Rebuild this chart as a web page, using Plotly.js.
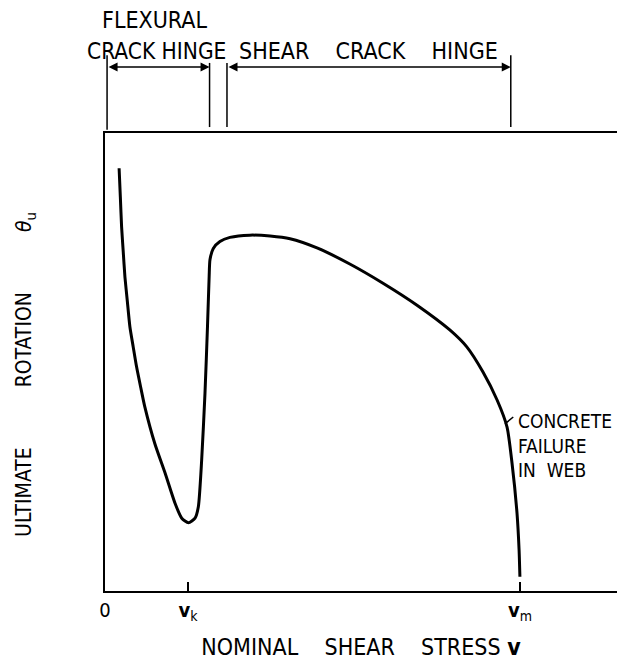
<!DOCTYPE html>
<html>
<head>
<meta charset="utf-8">
<script src="https://cdn.plot.ly/plotly-3.0.1.min.js"></script>
<style>html,body{margin:0;padding:0;background:#fff;}</style>
</head>
<body>
<div id="chart" style="width:617px;height:660px;"></div>
<script>
// Nominal shear stress v (relative units: v_m = 100)
const stress = [3.4, 3.7, 4.0, 4.4, 4.8, 5.4, 6.0, 6.8, 7.6, 8.6, 9.6, 12.0, 14.5, 16.9, 18.5, 20.1, 21.7, 22.5, 23.3, 24.1, 24.7, 25.1, 25.3, 26.1, 27.7, 30.1, 34.9, 39.8, 44.6, 51.1, 59.0, 67.0, 75.2, 83.1, 87.2, 91.1, 94.5, 96.9, 98.1, 99.3, 99.8, 100];
// Ultimate rotation theta_u (relative units)
const rotation = [92.3, 86.0, 79.5, 74.0, 68.6, 63.1, 57.7, 53.3, 49.0, 44.5, 40.2, 32.2, 25.7, 19.1, 15.9, 14.9, 15.9, 18.4, 28.6, 43.2, 57.7, 68.6, 72.3, 74.8, 76.3, 77.2, 77.7, 77.5, 76.9, 74.9, 71.4, 67.2, 62.4, 57.0, 53.3, 47.8, 41.7, 35.8, 27.9, 17.0, 9.0, 3.1];
const tickValues = [0, 20, 100];
const tickLabels = ['0', '<b>v</b><sub>k</sub>', '<b>v</b><sub>m</sub>'];
// zone limits for the hinge brackets
const flexZone = [0.5, 25.2];
const shearZone = [29.4, 97.8];

const FONT = '"Liberation Sans Narrow", "DejaVu Sans Condensed", "Liberation Sans", sans-serif';

const trace = {
  x: stress, y: rotation, type: 'scatter', mode: 'lines',
  line: {color: '#000', width: 3, shape: 'spline', smoothing: 0.6},
  hoverinfo: 'skip'
};

function vline(x, y0, y1) {
  return {type: 'line', xref: 'x', yref: 'paper', x0: x, x1: x, y0: y0, y1: y1,
          line: {color: '#000', width: 1.5}};
}
function dblArrow(a, b, y) {
  return {xref: 'x', yref: 'paper', axref: 'x', ayref: 'paper', x: b, y: y, ax: a, ay: y,
          text: '', showarrow: true, arrowhead: 2, arrowside: 'end+start', arrowsize: 1.2,
          arrowwidth: 1.5, arrowcolor: '#000', standoff: 0, startstandoff: 0};
}
const sp = n => '\u00a0'.repeat(n);

const layout = {
  width: 617, height: 660,
  margin: {l: 105, r: 0, t: 133, b: 69},
  paper_bgcolor: '#fff', plot_bgcolor: '#fff',
  showlegend: false,
  font: {family: FONT, color: '#000', size: 19},
  xaxis: {
    range: [0, 123.4], showgrid: false, zeroline: false,
    showline: true, linecolor: '#000', linewidth: 2, mirror: true,
    ticks: 'inside', ticklen: 9, tickwidth: 2, tickcolor: '#000',
    tickmode: 'array', tickvals: tickValues, ticktext: tickLabels,
    tickfont: {family: FONT, size: 20, color: '#000'},
    title: {text: 'NOMINAL' + sp(4) + 'SHEAR' + sp(4) + 'STRESS\u00a0<b>v</b>',
            font: {family: FONT, size: 23, color: '#000'}, standoff: 16},
    automargin: false, fixedrange: true
  },
  yaxis: {
    range: [0, 100], showgrid: false, zeroline: false,
    showline: true, linecolor: '#000', linewidth: 2, mirror: false,
    ticks: '', showticklabels: false,
    automargin: false, fixedrange: true
  },
  shapes: [
    vline(flexZone[0], 1.007, 1.170),
    vline(flexZone[1], 1.013, 1.153),
    vline(shearZone[0], 1.013, 1.153),
    vline(shearZone[1], 1.013, 1.170),
    {type: 'line', xref: 'x', yref: 'y', x0: 96.4, y0: 36.5, x1: 98.4, y1: 38.0,
     line: {color: '#000', width: 1.5}}
  ],
  annotations: [
    {xref: 'paper', yref: 'paper', x: -0.156, y: 0.472, textangle: -90,
     text: 'ULTIMATE' + sp(10) + 'ROTATION' + sp(10) + '<i>θ</i><sub>u</sub>',
     showarrow: false, xanchor: 'center', yanchor: 'middle',
     font: {family: FONT, size: 21}},
    {xref: 'x', yref: 'paper', x: 12.0, y: 1.246, text: 'FLEXURAL', showarrow: false,
     xanchor: 'center', yanchor: 'middle', font: {family: FONT, size: 23}},
    {xref: 'x', yref: 'paper', x: 12.3, y: 1.179, text: 'CRACK HINGE', showarrow: false,
     xanchor: 'center', yanchor: 'middle', font: {family: FONT, size: 22.5}},
    {xref: 'x', yref: 'paper', x: 63.5, y: 1.179, text: 'SHEAR' + sp(4) + 'CRACK' + sp(4) + 'HINGE', showarrow: false,
     xanchor: 'center', yanchor: 'middle', font: {family: FONT, size: 23}},
    dblArrow(flexZone[0], flexZone[1], 1.144),
    dblArrow(shearZone[0], shearZone[1], 1.144),
    {xref: 'x', yref: 'y', x: 99.0, y: 40.0, text: 'CONCRETE<br>FAILURE<br>IN\u00a0\u00a0WEB', showarrow: false,
     xanchor: 'left', yanchor: 'top', align: 'left', font: {family: FONT, size: 19}}
  ]
};

Plotly.newPlot('chart', [trace], layout, {staticPlot: true, displayModeBar: false});
</script>
</body>
</html>
